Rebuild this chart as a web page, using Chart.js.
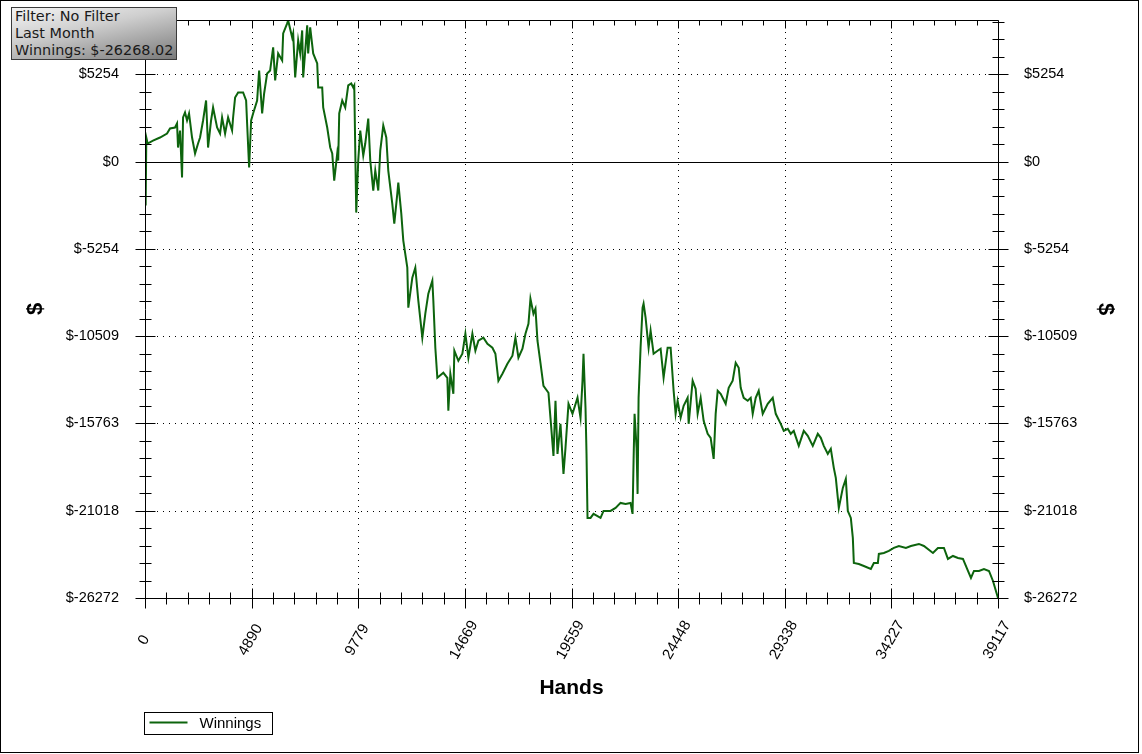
<!DOCTYPE html>
<html><head><meta charset="utf-8">
<script src="https://cdn.jsdelivr.net/npm/chart.js@4/dist/chart.umd.min.js"></script>
<style>
html,body{margin:0;padding:0;background:#fff;}
#wrap{position:relative;width:1142px;height:754px;overflow:hidden;background:#fff;}
canvas{position:absolute;left:0;top:0;}
#frame{position:absolute;left:0;top:0;width:1139px;height:753px;box-sizing:border-box;border:1px solid #000;pointer-events:none;}
#info{position:absolute;left:11px;top:7px;width:166px;height:53px;box-sizing:border-box;border:1px solid #3a3a3a;
 background:linear-gradient(168deg,#f4f4f4 0%,#cfcfcf 40%,#7a7a7a 100%);
 font-family:"DejaVu Sans";font-size:14.4px;line-height:17px;color:#1a1a1a;padding:0 0 0 3px;white-space:nowrap;}
</style></head>
<body><div id="wrap"><canvas id="c" width="1142" height="754"></canvas><div id="frame"></div>
<div id="info">Filter: No Filter<br>Last Month<br>Winnings: $-26268.02</div></div>
<script>
const seriesLabel = 'Winnings';
const hands = [0,30,60,120,367,689,1010,1148,1377,1469,1515,1607,1699,1745,1836,1928,2020,2158,2296,2433,
2525,2663,2801,2892,3030,3122,3306,3443,3535,3673,3811,3994,4040,4132,4270,4499,4637,4683,4775,4867,
4958,5142,5234,5372,5463,5601,5739,5877,5969,6106,6290,6336,6520,6565,6749,6795,6887,7024,7116,7208,
7254,7438,7483,7575,7713,7897,7943,8126,8172,8356,8494,8586,8677,8815,8861,8907,9045,9182,9320,9458,
9550,9596,9687,9779,9871,10009,10101,10238,10330,10468,10560,10697,10789,10927,11065,11156,11340,11432,11570,11616,
11753,11845,12029,12075,12259,12396,12534,12718,12855,12993,13177,13223,13314,13406,13682,13865,13911,14003,14141,14187,
14370,14554,14692,14830,15013,15151,15289,15518,15702,15931,16069,16207,16391,16620,16850,16987,17125,17309,17447,17584,
17676,17814,17906,17998,18135,18273,18502,18594,18732,18824,18916,19053,19191,19283,19421,19604,19834,19972,20063,20109,
20201,20247,20293,20431,20569,20890,21028,21349,21579,21808,22038,22267,22359,22405,22451,22543,22589,22635,22726,22818,
22864,22956,23094,23186,23323,23507,23645,23782,23966,24104,24242,24333,24425,24563,24701,24884,24930,25114,25252,25343,
25481,25619,25803,25940,26078,26170,26262,26399,26629,26767,26950,27088,27226,27318,27455,27639,27777,27869,28006,28144,
28328,28557,28787,28925,29154,29292,29476,29613,29751,29981,30210,30394,30623,30853,30991,31128,31312,31450,31587,31679,
31817,32001,32138,32230,32368,32460,32506,32735,32965,33286,33424,33608,33653,33883,34113,34342,34572,34893,35123,35490,
35720,36133,36362,36638,36821,37051,37281,37510,37740,37877,38015,38245,38474,38704,38887,39117];
const winnings = [0,-2651,1446,1085,1265,1446,1687,1988,2049,2290,844,1868,-964,2651,2953,2471,2892,1446,482,1085,
1446,2471,3676,844,2471,3254,2049,1687,2651,1687,2651,1868,2651,3856,4158,4158,3676,2290,-362,2471,
2892,3676,5483,2892,4097,5303,5483,6869,4881,6508,6086,7713,8315,8496,7472,7713,5062,7291,6508,7894,
5062,8195,6508,8074,6508,5905,4459,4459,3254,2049,844,482,-1145,482,60,2892,3676,3254,4580,4700,
4459,4580,-3073,60,1868,362,1085,2591,60,-1747,-542,-1747,663,2169,1446,-542,-2531,-3736,-1928,-1265,
-3133,-4760,-6387,-8798,-6990,-6387,-8376,-10605,-9159,-7954,-7171,-8376,-11208,-13016,-12714,-13016,-15004,-12774,-13980,-11389,
-11991,-11569,-10364,-11810,-10364,-11389,-10786,-10605,-10967,-11208,-11569,-13196,-12774,-12172,-11690,-10605,-11810,-11268,-10364,-9762,
-8255,-9159,-8858,-10786,-12112,-13498,-13919,-15426,-17716,-14401,-17595,-15787,-18800,-17234,-14582,-15185,-14221,-15426,-13196,-11569,
-14823,-17595,-21451,-21451,-21210,-21451,-21030,-21030,-20849,-20548,-20608,-20548,-21210,-18017,-15185,-17234,-20005,-14221,-11208,-8798,
-8556,-9400,-11208,-10183,-11569,-11389,-11268,-13016,-11208,-11208,-13799,-15185,-14401,-15426,-14703,-14221,-15787,-13196,-13678,-15185,
-14221,-15607,-16390,-16631,-17896,-15185,-13799,-13980,-14582,-13618,-13196,-12112,-12413,-13618,-14221,-14401,-14221,-15185,-14221,-13799,
-15185,-14582,-14221,-15185,-15787,-16209,-16089,-16390,-16209,-17113,-16209,-16510,-17113,-16390,-16631,-17113,-17595,-17294,-18439,-19041,
-20849,-19644,-19101,-21030,-21451,-22657,-24163,-24223,-24344,-24525,-24163,-24163,-23621,-23560,-23440,-23259,-23139,-23259,-23139,-23018,
-23139,-23560,-23259,-23259,-23922,-23741,-23862,-23922,-24645,-25067,-24645,-24645,-24525,-24645,-25248,-26268];
const xTickValues = [0,4889.625,9779.25,14668.875,19558.5,24448.125,29337.75,34227.375,39117];
const xTickLabels = ['0','4890','9779','14669','19559','24448','29338','34227','39117'];
const yTickValues = [-26272,-21017.6,-15763.2,-10508.8,-5254.4,0,5254.4];
const yTickLabels = ['$-26272','$-21018','$-15763','$-10509','$-5254','$0','$5254'];
const X_MIN = 0, X_MAX = 39117, Y_MIN = -26272, Y_MAX = 8520;
const LINE_COLOR = '#0d640d';

const points = hands.map((h, i) => ({x: h, y: winnings[i]}));

const frameTicks = {
  id: 'frameTicks',
  beforeDatasetsDraw(chart) {
    const {ctx, chartArea: a, scales} = chart;
    const x = scales.x, y = scales.y;
    ctx.save();
    ctx.lineWidth = 1; ctx.strokeStyle = '#000';
    ctx.setLineDash([1, 5]);
    ctx.beginPath();
    xTickValues.forEach(v => {
      const p = Math.round(x.getPixelForValue(v)) + 0.5;
      if (p <= a.left + 2 || p >= a.right - 2) return;
      ctx.moveTo(p, a.top); ctx.lineTo(p, a.bottom);
    });
    yTickValues.forEach(v => {
      if (v === 0) return;
      const p = Math.round(y.getPixelForValue(v)) + 0.5;
      if (p <= a.top + 2 || p >= a.bottom - 2) return;
      ctx.moveTo(a.left, p); ctx.lineTo(a.right, p);
    });
    ctx.stroke();
    ctx.setLineDash([]);
    const z = Math.round(y.getPixelForValue(0)) + 0.5;
    ctx.beginPath(); ctx.moveTo(a.left, z); ctx.lineTo(a.right, z); ctx.stroke();
    ctx.restore();
  },
  afterDatasetsDraw(chart) {
    const {ctx, chartArea: a, scales} = chart;
    const x = scales.x, y = scales.y;
    const L = Math.round(a.left) + 0.5, R = Math.round(a.right) + 0.5;
    const T = Math.round(a.top) + 0.5, B = Math.round(a.bottom) + 0.5;
    ctx.save();
    ctx.strokeStyle = '#000'; ctx.lineWidth = 1;
    ctx.beginPath();
    ctx.rect(L, T, R - L, B - T);
    const xs = (X_MAX - X_MIN) / 40;
    for (let k = 0; k <= 40; k++) {
      const p = Math.round(x.getPixelForValue(X_MIN + k * xs)) + 0.5;
      const major = k % 5 === 0;
      const d = major ? 10 : 6;
      ctx.moveTo(p, B - d); ctx.lineTo(p, B + d);
      ctx.moveTo(p, T); ctx.lineTo(p, T + (major ? 8 : 5));
    }
    const ys = (yTickValues[1] - yTickValues[0]) / 5;
    for (let k = 0; ; k++) {
      const v = Y_MIN + k * ys;
      if (v > Y_MAX) break;
      const p = Math.round(y.getPixelForValue(v)) + 0.5;
      const d = (k % 5 === 0) ? 10 : 6;
      ctx.moveTo(L - d, p); ctx.lineTo(L + d, p);
      ctx.moveTo(R - d, p); ctx.lineTo(R + d, p);
    }
    ctx.stroke();

    // rotated x tick labels
    ctx.fillStyle = '#000';
    ctx.font = '15px "Liberation Sans", Arial, sans-serif';
    ctx.textAlign = 'center'; ctx.textBaseline = 'middle';
    x.ticks.forEach((t, i) => {
      const p = x.getPixelForValue(t.value);
      ctx.save();
      ctx.translate(p - 1, a.bottom + 42);
      ctx.rotate(-Math.PI / 3);
      ctx.fillText(xTickLabels[i], 0, 0);
      ctx.restore();
    });

    // legend
    const ds = chart.data.datasets[0];
    const lx = L - 1, ly = 712.5;
    ctx.strokeStyle = '#000'; ctx.lineWidth = 1;
    ctx.strokeRect(lx, ly, 128, 22);
    ctx.strokeStyle = ds.borderColor; ctx.lineWidth = 2;
    ctx.beginPath(); ctx.moveTo(lx + 5, ly + 10); ctx.lineTo(lx + 43, ly + 10); ctx.stroke();
    ctx.textAlign = 'left';
    ctx.fillText(ds.label, lx + 55, ly + 11);
    ctx.restore();
  }
};

const yAxisCommon = (pos, width, titlePad) => ({
  type: 'linear', position: pos, min: Y_MIN, max: Y_MAX,
  afterFit(s) { s.width = width; s.paddingTop = 0; s.paddingBottom = 0; },
  afterBuildTicks(s) { s.ticks = yTickValues.map(v => ({value: v})); },
  grid: {display: false, drawTicks: false}, border: {display: false},
  ticks: {
    padding: 26, color: '#000',
    font: {family: '"Liberation Sans", Arial, sans-serif', size: 14.5},
    autoSkip: false,
    callback: (v, i) => yTickLabels[i]
  },
  title: {display: true, text: '$', color: '#000',
    font: {family: '"Liberation Sans", Arial, sans-serif', size: 22, weight: 'bold'},
    padding: {top: titlePad, bottom: 0}}
});

new Chart(document.getElementById('c'), {
  type: 'line',
  data: {datasets: [{label: seriesLabel, data: points, borderColor: LINE_COLOR, backgroundColor: LINE_COLOR,
    borderWidth: 2, pointRadius: 0, tension: 0, fill: false, yAxisID: 'y'}]},
  options: {
    responsive: false, animation: false, devicePixelRatio: 1,
    layout: {padding: {top: 20, left: 0, right: 0, bottom: 0}},
    plugins: {legend: {display: false}, tooltip: {enabled: false}},
    scales: {
      x: {
        type: 'linear', position: 'bottom', min: X_MIN, max: X_MAX,
        afterFit(s) { s.height = 156; s.paddingLeft = 0; s.paddingRight = 0; },
        afterBuildTicks(s) { s.ticks = xTickValues.map(v => ({value: v})); },
        grid: {display: false}, border: {display: false},
        ticks: {display: false},
        title: {display: true, text: 'Hands', color: '#000',
          font: {family: '"Liberation Sans", Arial, sans-serif', size: 21, weight: 'bold'},
          padding: {top: 0, bottom: 53}}
      },
      y: yAxisCommon('left', 145, 23),
      y2: yAxisCommon('right', 144, 24)
    }
  },
  plugins: [frameTicks]
});
</script></body></html>
